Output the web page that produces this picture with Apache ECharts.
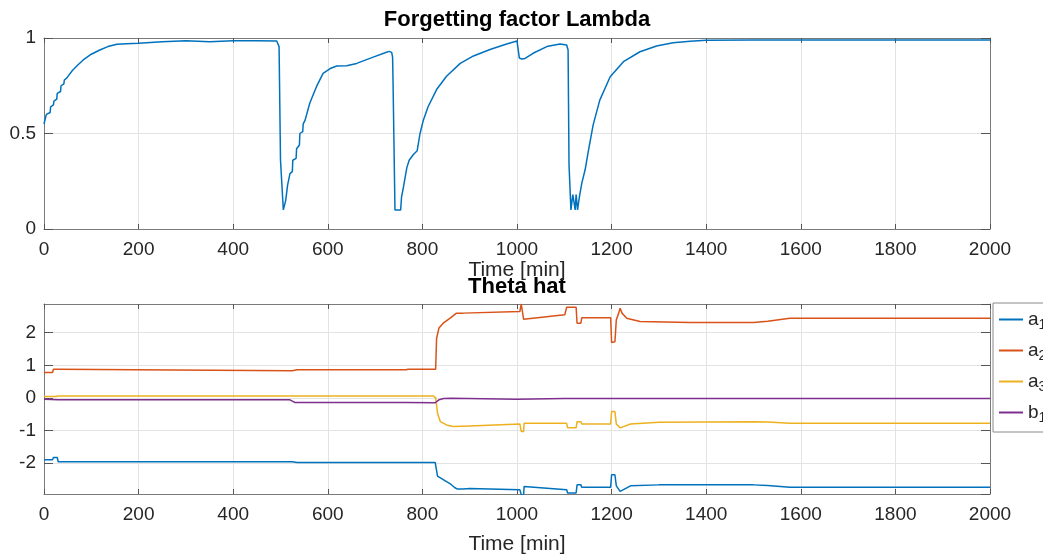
<!DOCTYPE html>
<html>
<head>
<meta charset="utf-8">
<script src="https://cdn.jsdelivr.net/npm/echarts@6/dist/echarts.min.js"></script>
<style>
html,body{margin:0;padding:0;background:#fff;}
#chart{width:1043px;height:557px;}
</style>
</head>
<body>
<div id="chart"></div>
<script>
// ---- data (time [min], value) ----
var lambdaPts = [[0,0.55],[3,0.56],[5,0.6],[13,0.61],[14,0.64],[20,0.65],[21,0.67],[27,0.68],[28,0.71],[35,0.72],[36,0.75],[42,0.76],[43,0.78],[48,0.79],[60,0.83],[72,0.86],[83,0.885],[100,0.915],[118,0.937],[135,0.955],[154,0.967],[175,0.97],[200,0.972],[250,0.98],[300,0.986],[350,0.981],[400,0.986],[450,0.986],[492,0.984],[496,0.975],[497,0.955],[499,0.955],[500,0.36],[504,0.36],[506,0.1],[510,0.1],[511,0.15],[514,0.16],[515,0.23],[519,0.23],[520,0.29],[525,0.3],[526,0.36],[533,0.37],[534,0.42],[540,0.44],[541,0.5],[547,0.51],[548,0.55],[552,0.57],[562,0.66],[576,0.745],[590,0.815],[605,0.84],[619,0.853],[640,0.855],[661,0.867],[696,0.9],[724,0.925],[730,0.93],[735,0.925],[737,0.9],[738,0.76],[741,0.76],[742,0.1],[754,0.1],[756,0.17],[760,0.22],[767,0.32],[772,0.36],[781,0.39],[789,0.41],[795,0.5],[802,0.57],[812,0.64],[830,0.73],[851,0.8],[880,0.867],[908,0.906],[943,0.94],[978,0.969],[1000,0.984],[1004,0.984],[1005,0.895],[1010,0.89],[1014,0.895],[1017,0.893],[1034,0.92],[1063,0.955],[1091,0.969],[1105,0.963],[1108,0.937],[1110,0.335],[1113,0.335],[1114,0.1],[1117,0.1],[1118,0.18],[1122,0.18],[1123,0.1],[1124,0.1],[1125,0.18],[1127,0.18],[1128,0.1],[1131,0.1],[1132,0.17],[1137,0.24],[1144,0.31],[1151,0.41],[1161,0.545],[1175,0.675],[1197,0.797],[1225,0.876],[1260,0.928],[1295,0.958],[1330,0.975],[1366,0.983],[1400,0.988],[1500,0.99],[2000,0.99]];

var a1Pts = [[0,-1.9],[18,-1.9],[20,-1.83],[28,-1.83],[30,-1.96],[525,-1.96],[535,-1.98],[827,-1.98],[829,-1.93],[832,-2.4],[836,-2.45],[851,-2.57],[860,-2.65],[868,-2.75],[874,-2.8],[886,-2.8],[900,-2.78],[1006,-2.82],[1008,-2.82],[1009,-2.97],[1014,-2.97],[1015,-2.72],[1105,-2.82],[1107,-2.92],[1125,-2.92],[1127,-2.67],[1135,-2.67],[1137,-2.74],[1198,-2.74],[1200,-2.36],[1207,-2.36],[1210,-2.7],[1218,-2.87],[1240,-2.7],[1300,-2.67],[1500,-2.67],[1530,-2.69],[1577,-2.74],[2000,-2.74]];

var a2Pts = [[0,0.78],[18,0.78],[20,0.88],[28,0.88],[30,0.83],[525,0.83],[535,0.86],[765,0.86],[770,0.88],[828,0.88],[830,1.83],[835,2.14],[844,2.29],[858,2.44],[872,2.6],[886,2.6],[890,2.57],[1006,2.65],[1008,2.65],[1009,2.88],[1012,2.88],[1014,2.41],[1101,2.55],[1104,2.55],[1105,2.78],[1125,2.78],[1127,2.29],[1135,2.29],[1137,2.46],[1198,2.46],[1200,1.7],[1207,1.72],[1210,2.4],[1215,2.6],[1218,2.75],[1222,2.6],[1232,2.44],[1260,2.34],[1366,2.31],[1500,2.31],[1530,2.35],[1577,2.44],[2000,2.44]];

var a3Pts = [[0,0.04],[25,0.04],[30,0.06],[823,0.06],[828,0.0],[832,-0.47],[838,-0.73],[851,-0.83],[865,-0.88],[900,-0.86],[1006,-0.8],[1008,-0.8],[1009,-1.03],[1014,-1.03],[1015,-0.78],[1105,-0.78],[1107,-0.92],[1125,-0.92],[1127,-0.73],[1135,-0.73],[1137,-0.8],[1198,-0.8],[1200,-0.42],[1207,-0.42],[1210,-0.8],[1218,-0.92],[1240,-0.8],[1300,-0.75],[1500,-0.73],[1530,-0.74],[1577,-0.78],[2000,-0.78]];

var b1Pts = [[0,-0.04],[30,-0.06],[520,-0.06],[530,-0.14],[765,-0.14],[827,-0.15],[835,-0.06],[845,-0.02],[860,-0.01],[1000,-0.04],[1100,-0.02],[1200,-0.02],[2000,-0.02]];

var seriesNames = ['a1','a2','a3','b1'];
var titles = ['Forgetting factor Lambda','Theta hat'];
var xName = 'Time [min]';

// ---- chart ----
var AX = '#262626', GRID = '#e3e3e3';
var FONT = 'Liberation Sans, Arial, sans-serif';
var colors = ['#0072BD','#D95319','#EDB120','#7E2F8E'];
var chart = echarts.init(document.getElementById('chart'), null, {renderer:'canvas'});

function plain(v){ return String(Math.round(v*100)/100); }

function xAx(g, pos, main, gap){
  return {
    type:'value', gridIndex:g, position:pos, min:0, max:2000, interval:200,
    axisLine:{show:true, onZero:false, lineStyle:{color:'#7a7a7a', width:1}},
    axisTick:{show:true, inside:true, length:5, lineStyle:{color:'#555'}},
    axisLabel:{show:main, color:AX, fontSize:19, margin:11, fontFamily:FONT, formatter:plain},
    splitLine:{show:main, lineStyle:{color:GRID, width:1}},
    name: main ? xName : '', nameLocation:'middle', nameGap:gap,
    nameTextStyle:{color:AX, fontSize:21, fontFamily:FONT}
  };
}
function yAx(g, pos, main, opts){
  var o = {
    type:'value', gridIndex:g, position:pos,
    axisLine:{show:true, onZero:false, lineStyle:{color:'#7a7a7a', width:1}},
    axisTick:{show:true, inside:true, length:9, lineStyle:{color:'#555'}},
    axisLabel:{show:main, color:AX, fontSize:19, margin:8, fontFamily:FONT, formatter:plain,
      showMinLabel: opts.showMin, showMaxLabel: opts.showMax},
    splitLine:{show:main, lineStyle:{color:GRID, width:1}}
  };
  for (var k in opts.scale) o[k] = opts.scale[k];
  return o;
}
var topScale = {min:0, max:1, interval:0.5};
var botScale = {min:-2.95, max:2.88, splitNumber:6};

var series = [{
  type:'line', xAxisIndex:0, yAxisIndex:0, data:lambdaPts, showSymbol:false, symbol:'none',
  lineStyle:{color:colors[0], width:1.5}, itemStyle:{color:colors[0]}
}];
var bot = [a1Pts,a2Pts,a3Pts,b1Pts];
for (var i=0;i<4;i++){
  series.push({
    name:seriesNames[i], type:'line', xAxisIndex:1, yAxisIndex:1, data:bot[i], showSymbol:false, symbol:'none',
    lineStyle:{color:colors[i], width:1.5}, itemStyle:{color:colors[i]}
  });
}

chart.setOption({
  animation:false,
  backgroundColor:'#fff',
  grid:[
    {left:44, top:38, width:946, height:191, show:false},
    {left:44, top:304, width:946, height:190, show:false}
  ],
  xAxis:[ xAx(0,'bottom',true,29), xAx(1,'bottom',true,40), xAx(0,'top',false,0), xAx(1,'top',false,0) ],
  yAxis:[
    yAx(0,'left',true,{scale:topScale, showMin:true, showMax:true}),
    yAx(1,'left',true,{scale:botScale, showMin:false, showMax:false}),
    yAx(0,'right',false,{scale:topScale}),
    yAx(1,'right',false,{scale:botScale})
  ],
  legend:{
    data:seriesNames, orient:'vertical', left:993, top:303,
    backgroundColor:'#fff', borderColor:'#8a8a8a', borderWidth:1,
    padding:[7,20,7,6], itemGap:9, itemWidth:24, itemHeight:2, icon:'rect',
    textStyle:{color:AX, fontFamily:FONT,
      rich:{b:{fontSize:19, color:AX, lineHeight:22, fontFamily:FONT},
            s:{fontSize:14, color:AX, padding:[11,0,0,0], fontFamily:FONT}}},
    formatter:function(n){ return '{b|'+n.charAt(0)+'}{s|'+n.charAt(1)+'}'; }
  },
  graphic:[
    {type:'text', x:517, y:9, style:{text:titles[0], align:'center', verticalAlign:'top', fill:'#000',
      font:'bold 22px "Liberation Sans", Arial, sans-serif'}},
    {type:'text', x:517, y:276, style:{text:titles[1], align:'center', verticalAlign:'top', fill:'#000',
      font:'bold 22px "Liberation Sans", Arial, sans-serif'}}
  ],
  series:series
});
</script>
</body>
</html>
